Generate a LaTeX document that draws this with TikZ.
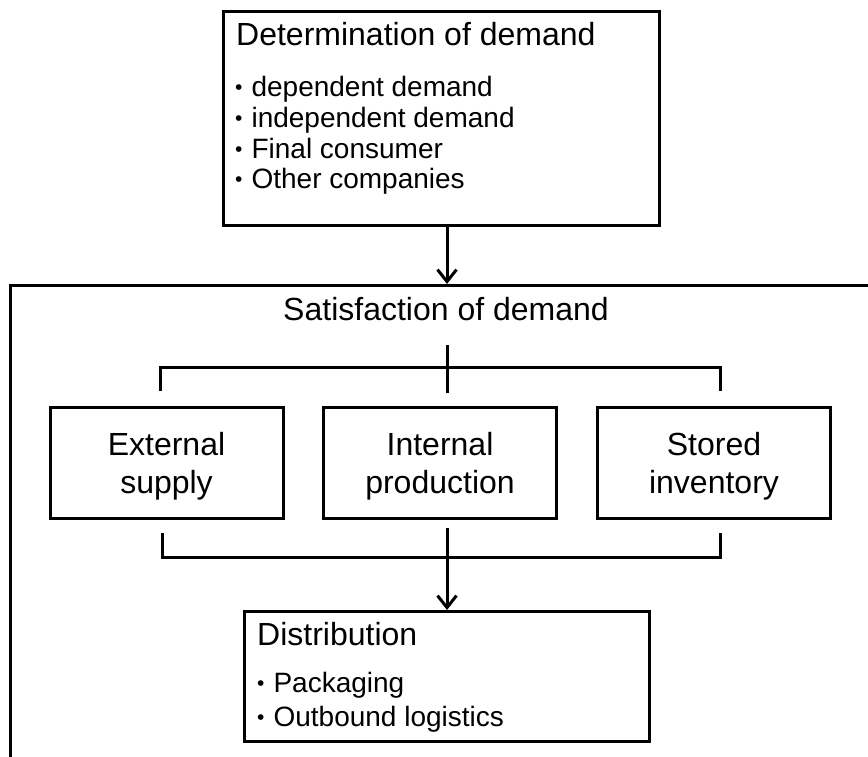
\documentclass[tikz,border=0pt]{standalone}
\usepackage{fontspec}
\setmainfont{Liberation Sans}
\usetikzlibrary{arrows.meta}

\newcommand{\headfont}{\fontsize{32}{38}\selectfont}
\newcommand{\itemfont}{\fontsize{28}{31}\selectfont}
\newcommand{\dotitem}{\raisebox{2pt}{\fontsize{21}{21}\selectfont\textbullet}\hspace{9pt}}

\begin{document}
\begin{tikzpicture}[x=1pt,y=-1pt,
  box/.style={draw,line width=3pt,inner sep=0pt},
  midbox/.style={box,minimum width=233pt,minimum height=111pt,align=center,font=\headfont,text depth=0pt},
  head/.style={anchor=base west,inner sep=0pt,font=\headfont},
  item/.style={anchor=base west,inner sep=0pt,font=\itemfont},
  link/.style={line width=3pt},
  arr/.style={link,-{Straight Barb[length=12pt,width=19pt]}}]
  \useasboundingbox (0,0) rectangle (868,756);
  \clip (0,0) rectangle (868,756);

  % demand side
  \node[box,anchor=north west,minimum width=436pt,minimum height=214pt] (determ) at (222,10) {};
  \node[head] (determtitle) at (236,45) {Determination of demand};
  \foreach \txt [count=\i] in {dependent demand,independent demand,Final consumer,Other companies}
    \node[item] (determ\i) at (235,66+30.7*\i) {\dotitem\txt};

  % outer box, it runs off the page
  \node[box,anchor=north west,minimum width=900pt,minimum height=520pt] (satisf) at (9,284) {};
  \node[head,anchor=base] (satisftitle) at (446,320) {Satisfaction of demand};

  \node[midbox] (ext) at (166.5,462.5) {External\\supply};
  \node[midbox] (int) at (440,462.5) {Internal\\production};
  \node[midbox] (stored) at (714,462.5) {Stored\\inventory};

  \node[box,anchor=north west,minimum width=405pt,minimum height=130pt] (distrib) at (243,610) {};
  \node[head] (distribtitle) at (257,645) {Distribution};
  \node[item] (distrib1) at (257,692) {\dotitem Packaging};
  \node[item] (distrib2) at (257,726) {\dotitem Outbound logistics};

  % brackets
  \coordinate (splitL) at (160,391);
  \coordinate (splitR) at (720,391);
  \coordinate (splitT) at (446,345);
  \coordinate (joinL) at (162,533);
  \coordinate (joinR) at (720,533);
  \coordinate (joinT) at (446,528);

  \draw[arr] (determ.south -| distrib.north) -- (satisf.north -| distrib.north);
  \draw[link] (splitL) -- ++(0,-24) -| (splitR);
  \draw[link] (distrib.north |- splitT) -- ++(0,48);
  \draw[link] (joinL) -- ++(0,24) -| (joinR);
  \draw[arr] (distrib.north |- joinT) -- (distrib.north);
\end{tikzpicture}
\end{document}
